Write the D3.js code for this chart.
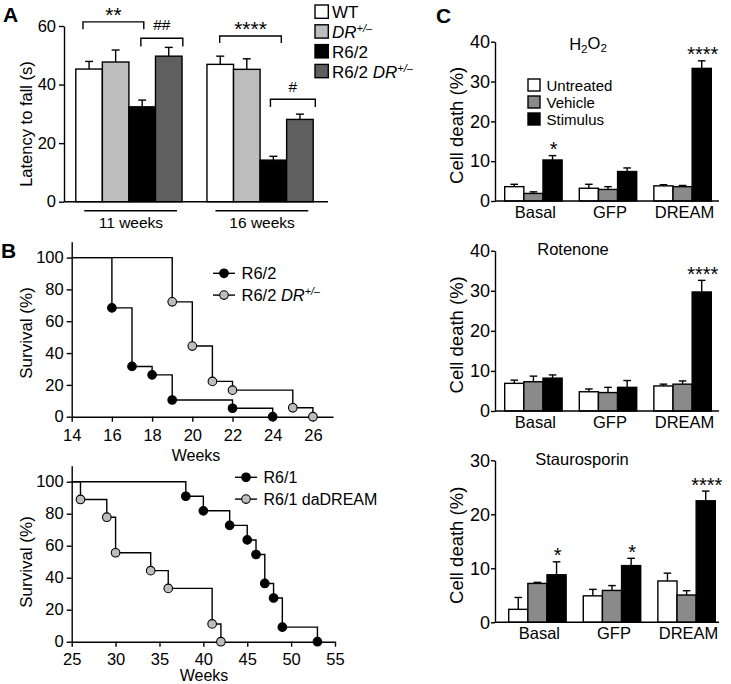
<!DOCTYPE html>
<html><head><meta charset="utf-8">
<script src="https://cdn.jsdelivr.net/npm/d3@7/dist/d3.min.js"></script>
<style>body{margin:0;background:#fff}svg{display:block}</style>
</head><body><svg id="fig" width="731" height="684"></svg>
<script>
// ---------- Panel A data ----------
const ageGroups = ["11 weeks", "16 weeks"];
const genotypes = ["WT", "DR+/–", "R6/2", "R6/2 DR+/–"];
const latency11 = [45.3, 47.7, 32.4, 49.7];
const latency11Sem = [2.6, 4.1, 2.3, 3.0];
const latency16 = [46.9, 45.2, 14.2, 28.1];
const latency16Sem = [2.8, 3.6, 1.3, 1.8];
const latencyTicks = [0, 20, 40, 60];

// ---------- Panel B data ----------
const r62Weeks = [16, 17, 18, 19, 22, 24];
const r62Survival = [68.4, 31.6, 26.3, 10.5, 5.3, 0];
const r62DrWeeks = [19, 20, 21, 22, 25, 26];
const r62DrSurvival = [72.2, 44.4, 22.2, 16.7, 5.6, 0];
const r61Weeks = [38, 40, 43, 45, 46, 47, 48, 49, 53];
const r61Survival = [90.9, 81.8, 72.7, 63.6, 54.5, 36.4, 27.3, 9.1, 0];
const r61DaWeeks = [26, 29, 30, 34, 36, 41, 42];
const r61DaSurvival = [88.9, 77.8, 55.6, 44.4, 33.3, 11.1, 0];
const survivalTicks = [0, 20, 40, 60, 80, 100];
const weekTicksTop = [14, 16, 18, 20, 22, 24, 26];
const weekTicksBottom = [25, 30, 35, 40, 45, 50, 55];

// ---------- Panel C data ----------
const cellLines = ["Basal", "GFP", "DREAM"];
const treatments = ["Untreated", "Vehicle", "Stimulus"];
const h2o2Untreated = [3.6, 3.2, 3.8];
const h2o2UntreatedSem = [0.6, 1.0, 0.3];
const h2o2Vehicle = [1.9, 2.9, 3.6];
const h2o2VehicleSem = [0.4, 0.7, 0.3];
const h2o2Stimulus = [10.3, 7.4, 33.3];
const h2o2StimulusSem = [1.1, 0.9, 1.9];
const h2o2Stars = ["*", "", "****"];
const rotUntreated = [6.9, 4.8, 6.25];
const rotUntreatedSem = [0.8, 0.7, 0.45];
const rotVehicle = [7.3, 4.6, 6.7];
const rotVehicleSem = [1.4, 1.3, 0.8];
const rotStimulus = [8.2, 5.9, 29.7];
const rotStimulusSem = [0.8, 1.7, 2.9];
const rotStars = ["", "", "****"];
const stauUntreated = [2.4, 4.9, 7.65];
const stauUntreatedSem = [2.2, 1.2, 1.45];
const stauVehicle = [7.2, 5.9, 5.05];
const stauVehicleSem = [0.2, 0.9, 0.8];
const stauStimulus = [8.8, 10.5, 22.5];
const stauStimulusSem = [2.4, 1.35, 1.8];
const stauStars = ["*", "*", "****"];
const cellTicks40 = [0, 10, 20, 30, 40];
const cellTicks30 = [0, 10, 20, 30];

// ---------- drawing ----------
const FONT = '"Liberation Sans", Arial, Helvetica, sans-serif';
const svg = d3.select("#fig").attr("font-family", FONT);
const LW = 1.4;

function styleAxis(ax, fs) {
  ax.attr("font-family", FONT).attr("font-size", fs);
  ax.select(".domain").attr("stroke", "#000").attr("stroke-width", LW);
  ax.selectAll(".tick line").attr("stroke", "#000").attr("stroke-width", LW);
  ax.selectAll(".tick text").attr("fill", "#000");
}
function hline(g, x1, x2, y) {
  g.append("line").attr("x1", x1).attr("x2", x2).attr("y1", y).attr("y2", y)
    .attr("stroke", "#000").attr("stroke-width", LW);
}
function vline(g, x, y1, y2) {
  g.append("line").attr("x1", x).attr("x2", x).attr("y1", y1).attr("y2", y2)
    .attr("stroke", "#000").attr("stroke-width", LW);
}
function rotLabel(g, text, cx, cy, fs) {
  g.append("text").attr("transform", `translate(${cx},${cy}) rotate(-90)`)
    .attr("text-anchor", "middle").attr("dy", "0.35em").attr("font-size", fs).text(text);
}
function drLabel(sel, prefix) {
  if (prefix) sel.append("tspan").text(prefix);
  sel.append("tspan").attr("font-style", "italic").text("DR");
  sel.append("tspan").attr("font-size", "0.65em").attr("dy", "-0.55em").attr("font-style", "italic").text("+/–");
}
function panelLetter(t, x, y) {
  svg.append("text").attr("x", x).attr("y", y).attr("font-size", 21)
    .attr("font-weight", "bold").text(t);
}

// ===== Panel A =====
panelLetter("A", 3, 21.5);
const gA = svg.append("g");
const yA = d3.scaleLinear().domain([0, 60]).range([201.7, 26]);
const xA = d3.scaleBand().domain(ageGroups).range([64, 325]).paddingInner(0.19).paddingOuter(0.09);
const xAin = d3.scaleBand().domain(genotypes).range([0, xA.bandwidth()]);
const colorsA = ["#ffffff", "#bdbdbd", "#000000", "#5f5f5f"];
const latencyMeans = [latency11, latency16];
const latencySems = [latency11Sem, latency16Sem];

ageGroups.forEach((grp, gi) => {
  genotypes.forEach((gt, i) => {
    const x0 = xA(grp) + xAin(gt), w = xAin.bandwidth();
    const m = latencyMeans[gi][i], s = latencySems[gi][i];
    const cx = x0 + w / 2;
    vline(gA, cx, yA(m), yA(m + s));
    hline(gA, cx - 4, cx + 4, yA(m + s));
    gA.append("rect").attr("x", x0).attr("y", yA(m)).attr("width", w)
      .attr("height", yA(0) - yA(m)).attr("fill", colorsA[i])
      .attr("stroke", "#000").attr("stroke-width", LW);
  });
  hline(gA, xA(grp) + 8.5, xA(grp) + xA.bandwidth() - 5, 210.7);
  gA.append("text").attr("x", xA(grp) + xA.bandwidth() / 2 + 2).attr("y", 228)
    .attr("text-anchor", "middle").attr("font-size", 15.5).text(grp);
});
const axA = gA.append("g").attr("transform", "translate(64,0)")
  .call(d3.axisLeft(yA).tickValues(latencyTicks).tickSize(5).tickSizeOuter(0).tickPadding(3));
styleAxis(axA, 16.5);
hline(gA, 64, 328, yA(0));
rotLabel(gA, "Latency to fall (s)", 26, 124, 16.5);

const bracketsA = [
  { group: 0, from: 0.27, to: 2.56, top: 61.4, drop: 2.5, label: "**", lift: 12, fs: 21 },
  { group: 0, from: 2.45, to: 4.03, top: 55.8, drop: 2.8, label: "##", lift: 14, fs: 15.5 },
  { group: 1, from: 0.48, to: 2.8, top: 56.6, drop: 2.4, label: "****", lift: 12, fs: 21 },
  { group: 1, from: 2.39, to: 4.08, top: 35.0, drop: 2.7, label: "#", lift: 12.6, fs: 15.5 }
];
bracketsA.forEach(b => {
  const g0 = xA(ageGroups[b.group]), sw = xAin.bandwidth();
  const x1 = g0 + b.from * sw, x2 = g0 + b.to * sw, yt = yA(b.top), yb = yA(b.top - b.drop);
  gA.append("path").attr("d", `M${x1},${yb}V${yt}H${x2}V${yb}`)
    .attr("fill", "none").attr("stroke", "#000").attr("stroke-width", LW);
  const cy = yt - b.lift;
  const isStar = b.label[0] === "*";
  gA.append("text").attr("x", (x1 + x2) / 2).attr("y", cy + (isStar ? 0.58 : 0.36) * b.fs)
    .attr("text-anchor", "middle").attr("font-size", b.fs).text(b.label);
});
const legA = svg.append("g");
genotypes.forEach((gt, i) => {
  const y0 = 5 + i * 19.8;
  legA.append("rect").attr("x", 315).attr("y", y0).attr("width", 13.3).attr("height", 13.3)
    .attr("fill", colorsA[i]).attr("stroke", "#000").attr("stroke-width", LW);
  const t = legA.append("text").attr("x", 332).attr("y", y0 + 13.3).attr("font-size", 17);
  if (i === 1) drLabel(t, null);
  else if (i === 3) drLabel(t, "R6/2 ");
  else t.text(gt);
});

// ===== Panel B =====
panelLetter("B", 1, 258.3);
function survivalChart(cfg) {
  const g = svg.append("g");
  const x = d3.scaleLinear().domain(cfg.xDomain).range(cfg.xRange);
  const y = d3.scaleLinear().domain([0, 110]).range(cfg.yRange);
  const ax = g.append("g").attr("transform", `translate(0,${cfg.yRange[0]})`)
    .call(d3.axisBottom(x).tickValues(cfg.xTicks).tickSize(5).tickSizeOuter(0).tickPadding(cfg.xPad));
  styleAxis(ax, 16.5);
  const ay = g.append("g").attr("transform", `translate(${cfg.xRange[0]},0)`)
    .call(d3.axisLeft(y).tickValues(survivalTicks).tickSize(5).tickSizeOuter(0).tickPadding(3));
  styleAxis(ay, 16.5);
  g.append("text").attr("x", cfg.weeksX).attr("y", cfg.weeksY).attr("text-anchor", "middle")
    .attr("font-size", 16).text("Weeks");
  rotLabel(g, "Survival (%)", 26, cfg.ylabY, 17);
  const line = d3.line().x(d => x(d[0])).y(d => y(d[1])).curve(d3.curveStepAfter);
  cfg.series.forEach(s => {
    const pts = [[cfg.xDomain[0], 100]].concat(s.weeks.map((w, i) => [w, s.surv[i]]));
    g.append("path").attr("d", line(pts)).attr("fill", "none")
      .attr("stroke", "#000").attr("stroke-width", LW);
  });
  cfg.series.forEach(s => {
    s.weeks.forEach((w, i) => {
      g.append("circle").attr("cx", x(w)).attr("cy", y(s.surv[i])).attr("r", 4.3)
        .attr("fill", s.fill).attr("stroke", "#000").attr("stroke-width", 1.1);
    });
  });
  cfg.series.forEach((s, i) => {
    const ly = cfg.legY + i * 21.8;
    hline(g, cfg.legX, cfg.legX + 22, ly);
    g.append("circle").attr("cx", cfg.legX + 11).attr("cy", ly).attr("r", 4.3)
      .attr("fill", s.fill).attr("stroke", "#000").attr("stroke-width", 1.1);
    const t = g.append("text").attr("x", cfg.legX + 28.5).attr("y", ly + 5.7).attr("font-size", cfg.legFs);
    if (s.dr) drLabel(t, s.name + " "); else t.text(s.name);
  });
}
survivalChart({
  xDomain: [14, 27], xRange: [71.7, 333], yRange: [416.7, 241.7], xTicks: weekTicksTop, xPad: 8,
  weeksX: 196, weeksY: 460.5, ylabY: 333, legX: 213, legY: 273.3, legFs: 16.5,
  series: [
    { name: "R6/2", weeks: r62Weeks, surv: r62Survival, fill: "#000" },
    { name: "R6/2", dr: true, weeks: r62DrWeeks, surv: r62DrSurvival, fill: "#bdbdbd" }
  ]
});
survivalChart({
  xDomain: [25, 55], xRange: [71.7, 335], yRange: [641.7, 465.7], xTicks: weekTicksBottom, xPad: 6.5,
  weeksX: 204, weeksY: 681, ylabY: 562, legX: 235, legY: 477.3, legFs: 16,
  series: [
    { name: "R6/1", weeks: r61Weeks, surv: r61Survival, fill: "#000" },
    { name: "R6/1 daDREAM", weeks: r61DaWeeks, surv: r61DaSurvival, fill: "#bdbdbd" }
  ]
});

// ===== Panel C =====
panelLetter("C", 436, 23.3);
const colorsC = ["#ffffff", "#8a8a8a", "#000000"];
const assays = [
  { title: "H2O2", means: [h2o2Untreated, h2o2Vehicle, h2o2Stimulus],
    sems: [h2o2UntreatedSem, h2o2VehicleSem, h2o2StimulusSem], stars: h2o2Stars,
    yMax: 40, ticks: cellTicks40, y0: 201, y1: 41.7, dx: 0, titleX: 588, titleY: 50 },
  { title: "Rotenone", means: [rotUntreated, rotVehicle, rotStimulus],
    sems: [rotUntreatedSem, rotVehicleSem, rotStimulusSem], stars: rotStars,
    yMax: 40, ticks: cellTicks40, y0: 411, y1: 250.7, dx: 0, titleX: 573, titleY: 255 },
  { title: "Staurosporin", means: [stauUntreated, stauVehicle, stauStimulus],
    sems: [stauUntreatedSem, stauVehicleSem, stauStimulusSem], stars: stauStars,
    yMax: 30, ticks: cellTicks30, y0: 622.3, y1: 460.3, dx: 4, titleX: 582, titleY: 465 }
];
assays.forEach(a => {
  const g = svg.append("g");
  const y = d3.scaleLinear().domain([0, a.yMax]).range([a.y0, a.y1]);
  const x = d3.scaleBand().domain(cellLines).range([495 + a.dx, 721 + a.dx])
    .paddingInner(0.23).paddingOuter(0.13);
  const xi = d3.scaleBand().domain(treatments).range([0, x.bandwidth()]);
  cellLines.forEach((cl, ci) => {
    treatments.forEach((tr, ti) => {
      const x0 = x(cl) + xi(tr), w = xi.bandwidth();
      const m = a.means[ti][ci], s = a.sems[ti][ci], cx = x0 + w / 2;
      vline(g, cx, y(m), y(m + s));
      hline(g, cx - 3.8, cx + 3.8, y(m + s));
      g.append("rect").attr("x", x0).attr("y", y(m)).attr("width", w)
        .attr("height", y(0) - y(m)).attr("fill", colorsC[ti])
        .attr("stroke", "#000").attr("stroke-width", LW);
      if (ti === 2 && a.stars[ci]) {
        g.append("text").attr("x", cx + 1).attr("y", y(m + s) - 11 + 0.58 * 20)
          .attr("text-anchor", "middle").attr("font-size", 20).text(a.stars[ci]);
      }
    });
    g.append("text").attr("x", x(cl) + x.bandwidth() / 2 + 2).attr("y", a.y0 + 16.5)
      .attr("text-anchor", "middle").attr("font-size", 16.5).text(cl);
  });
  hline(g, 495, 719, a.y0);
  const ay = g.append("g").attr("transform", "translate(495,0)")
    .call(d3.axisLeft(y).tickValues(a.ticks).tickSize(4).tickSizeOuter(0).tickPadding(1));
  styleAxis(ay, 18);
  rotLabel(g, "Cell death (%)", 457, (a.y0 + a.y1) / 2 + 4, 18.5);
  const tt = g.append("text").attr("x", a.titleX).attr("y", a.titleY)
    .attr("text-anchor", "middle").attr("font-size", 16.5);
  if (a.title === "H2O2") {
    tt.append("tspan").text("H");
    tt.append("tspan").attr("font-size", "0.7em").attr("dy", "0.3em").text("2");
    tt.append("tspan").attr("dy", "-0.3em").text("O");
    tt.append("tspan").attr("font-size", "0.7em").attr("dy", "0.3em").text("2");
  } else tt.text(a.title);
});
treatments.forEach((tr, i) => {
  const y0 = 79 + i * 17;
  svg.append("rect").attr("x", 528).attr("y", y0).attr("width", 12).attr("height", 12)
    .attr("fill", colorsC[i]).attr("stroke", "#000").attr("stroke-width", LW);
  svg.append("text").attr("x", 546.5).attr("y", y0 + 11.5).attr("font-size", 15).text(tr);
});
</script></body></html>
